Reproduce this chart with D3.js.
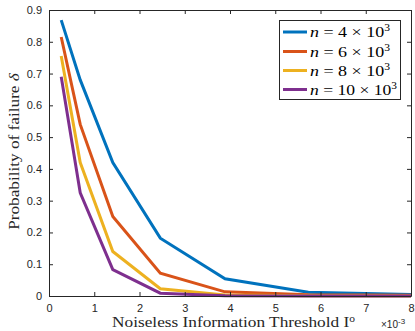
<!DOCTYPE html>
<html><head><meta charset="utf-8">
<script src="https://cdn.jsdelivr.net/npm/d3@7"></script>
<style>body{margin:0;background:#fff;} svg{display:block;}</style>
</head><body>
<script>
const xValues = [0.27, 0.69, 1.41, 2.46, 3.89, 5.73, 8];
const seriesNames = ["4", "6", "8", "10"];
const seriesN4 = [0.868, 0.68, 0.42, 0.182, 0.054, 0.012, 0.005];
const seriesN6 = [0.815, 0.54, 0.25, 0.072, 0.013, 0.004, 0.002];
const seriesN8 = [0.755, 0.42, 0.14, 0.023, 0.003, 0.001, 0.0];
const seriesN10 = [0.69, 0.325, 0.083, 0.009, 0.001, 0.0, 0.0];
const xTicks = [0,1,2,3,4,5,6,7,8];
const yTicks = [0,0.1,0.2,0.3,0.4,0.5,0.6,0.7,0.8,0.9];
const colors = ["#0072BD", "#D95319", "#EDB120", "#7E2F8E"];

const W = 415, H = 331;
const m = {l: 49, r: 4, t: 10, b: 35};
const svg = d3.select("body").append("svg").attr("width", W).attr("height", H);
const x = d3.scaleLinear().domain([0, 8]).range([m.l, W - m.r]);
const y = d3.scaleLinear().domain([0, 0.9]).range([H - m.b, m.t]);

// place text inside a group, then stretch horizontally (in local coords) to target width
function stretched(parent, tx, ty, rot, anchor, target, build) {
  const g = parent.append("g");
  const t = g.append("text").attr("x", 0).attr("y", 0).attr("text-anchor", anchor);
  build(t);
  const w = t.node().getBBox().width;
  const k = w > 0 ? target / w : 1;
  g.attr("transform", `translate(${tx},${ty}) rotate(${rot}) scale(${k},1)`);
  return t;
}

const series = [seriesN4, seriesN6, seriesN8, seriesN10];
const line = d3.line().x((d, i) => x(xValues[i])).y(d => y(d));
series.forEach((s, k) => {
  svg.append("path").datum(s).attr("d", line).attr("fill", "none")
    .attr("stroke", colors[k]).attr("stroke-width", 3).attr("stroke-linejoin", "miter");
});

const axisColor = "#262626";
const tickFont = "Liberation Sans, Arial, sans-serif";
const xb = svg.append("g").attr("transform", `translate(0,${H - m.b})`)
  .call(d3.axisBottom(x).tickValues(xTicks).tickSize(-4).tickSizeOuter(0).tickPadding(8));
const xt = svg.append("g").attr("transform", `translate(0,${m.t})`)
  .call(d3.axisTop(x).tickValues(xTicks).tickSize(-4).tickSizeOuter(0).tickFormat(""));
const yl = svg.append("g").attr("transform", `translate(${m.l},0)`)
  .call(d3.axisLeft(y).tickValues(yTicks).tickSize(-4).tickSizeOuter(0).tickPadding(7).tickFormat(d => d === 0 ? "0" : d3.format(".1f")(d)));
const yr = svg.append("g").attr("transform", `translate(${W - m.r},0)`)
  .call(d3.axisRight(y).tickValues(yTicks).tickSize(-4).tickSizeOuter(0).tickFormat(""));
[xb, xt, yl, yr].forEach(g => {
  g.selectAll("path,line").attr("stroke", axisColor).attr("stroke-width", 1);
  g.selectAll("text").attr("fill", axisColor).style("font-family", tickFont).style("font-size", "11px");
});

// x multiplier
const mult = svg.append("text").attr("x", 381).attr("y", 328).attr("fill", axisColor)
  .style("font-family", tickFont).style("font-size", "10px");
mult.append("tspan").text("\u00d710");
mult.append("tspan").attr("dy", -4).style("font-size", "8px").text("-3");

const serif = "Liberation Serif, Times New Roman, serif";
stretched(svg, 233.5, 327, 0, "middle", 243, t => {
  t.attr("fill", axisColor).style("font-family", serif).style("font-size", "15px");
  t.append("tspan").text("Noiseless Information Threshold I");
  t.append("tspan").attr("dy", -5).style("font-size", "10px").text("o");
});

stretched(svg, 19, 151.5, -90, "middle", 157, t => {
  t.attr("fill", axisColor).style("font-family", serif).style("font-size", "14.5px");
  t.append("tspan").text("Probability of failure ");
  t.append("tspan").style("font-style", "italic").text("\u03b4");
});

// legend
const lg = svg.append("g");
lg.append("rect").attr("x", 279.5).attr("y", 20.5).attr("width", 121).attr("height", 79)
  .attr("fill", "#fff").attr("stroke", axisColor).attr("stroke-width", 1);
const rowY = [32, 51.5, 70.5, 89.5];
const legendW = [80, 80, 80, 87];
seriesNames.forEach((nm, k) => {
  lg.append("line").attr("x1", 283).attr("x2", 307).attr("y1", rowY[k]).attr("y2", rowY[k])
    .attr("stroke", colors[k]).attr("stroke-width", 3);
  stretched(lg, 310, rowY[k] + 5, 0, "start", legendW[k], t => {
    t.attr("fill", "#000").style("font-family", serif).style("font-size", "15.5px");
    t.append("tspan").style("font-style", "italic").text("n");
    t.append("tspan").text(" = " + nm + " \u00d7 10");
    t.append("tspan").attr("dy", -6).style("font-size", "10px").text("3");
  });
});
</script>
</body></html>
